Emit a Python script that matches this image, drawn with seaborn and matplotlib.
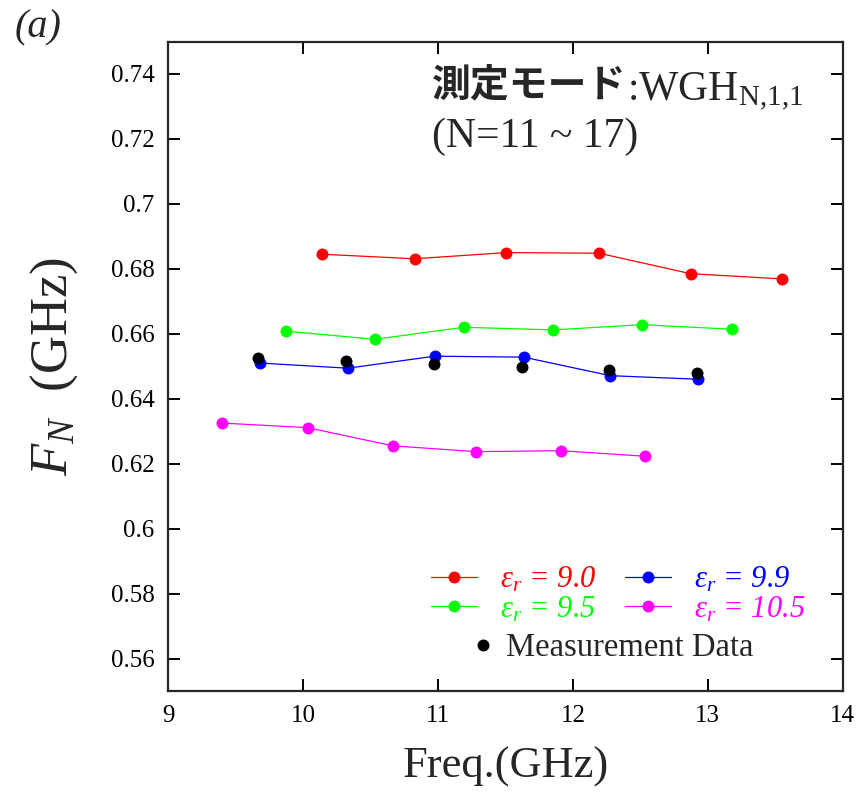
import matplotlib
matplotlib.use("Agg")
import matplotlib.pyplot as plt
from matplotlib.lines import Line2D
import numpy as np
import pandas as pd
import seaborn as sns

# ---- data -------------------------------------------------------------
freq_90 = [10.139, 10.826, 11.507, 12.195, 12.872, 13.551]
fn_90 = [0.6845, 0.6831, 0.6850, 0.6848, 0.6785, 0.6769]

freq_95 = [9.873, 10.532, 11.190, 11.854, 12.511, 13.181]
fn_95 = [0.6608, 0.6583, 0.6620, 0.6612, 0.6628, 0.6614]

freq_99 = [9.678, 10.330, 10.975, 11.635, 12.277, 12.927]
fn_99 = [0.6510, 0.6494, 0.6531, 0.6528, 0.6471, 0.6460]

freq_105 = [9.400, 10.033, 10.663, 11.283, 11.909, 12.532]
fn_105 = [0.6325, 0.6311, 0.6255, 0.6237, 0.6240, 0.6223]

freq_meas = [9.663, 10.320, 10.967, 11.620, 12.267, 12.917]
fn_meas = [0.6526, 0.6517, 0.6506, 0.6497, 0.6488, 0.6478]

eps_labels = ["9.0", "9.5", "9.9", "10.5"]
eps_colors = ["#ff0000", "#00ff00", "#0000ff", "#ff00ff"]

x_ticks = [9, 10, 11, 12, 13, 14]
y_ticks = [0.56, 0.58, 0.60, 0.62, 0.64, 0.66, 0.68, 0.70, 0.72, 0.74]
y_tick_labels = ["0.56", "0.58", "0.6", "0.62", "0.64", "0.66", "0.68", "0.7", "0.72", "0.74"]

# ---- styling ----------------------------------------------------------
sns.set_theme(style="ticks")
plt.rcParams["font.family"] = ["Liberation Serif", "DejaVu Serif"]
plt.rcParams["mathtext.fontset"] = "custom"
plt.rcParams["mathtext.rm"] = "Liberation Serif"
plt.rcParams["mathtext.it"] = "Liberation Serif:italic"
plt.rcParams["mathtext.bf"] = "Liberation Serif:bold"

W, H = 861, 792
fig = plt.figure(figsize=(W / 100, H / 100), dpi=100)
ax = fig.add_axes([168.3 / W, 1 - 691 / H, (842.7 - 168.3) / W, (691 - 41.5) / H])

series = [(freq_90, fn_90), (freq_95, fn_95), (freq_99, fn_99), (freq_105, fn_105)]
frames = []
for (fx, fy), lab in zip(series, eps_labels):
    frames.append(pd.DataFrame({"freq": fx, "fn": fy, "eps": lab}))
df = pd.concat(frames, ignore_index=True)

MS = 8.6
sns.lineplot(data=df, x="freq", y="fn", hue="eps", hue_order=eps_labels,
             palette=eps_colors, marker="o", markersize=MS, markeredgewidth=0,
             linewidth=0.9, legend=False, ax=ax, zorder=2)

meas = pd.DataFrame({"freq": freq_meas, "fn": fn_meas})
sns.scatterplot(data=meas, x="freq", y="fn", color="black", s=MS ** 2,
                linewidth=0, legend=False, ax=ax, zorder=3)

ax.set_xlim(9, 14)
ax.set_ylim(0.55, 0.75)
ax.set_xticks(x_ticks)
ax.set_yticks(y_ticks)
ax.set_yticklabels(y_tick_labels)
for s in ax.spines.values():
    s.set_linewidth(1.6)
ax.tick_params(axis="both", direction="in", length=8.5, width=1.4,
               labelsize=18, top=True, right=True, pad=10, colors="black")

ax.set_xlabel("Freq.(GHz)", fontsize=32, labelpad=14)
ax.set_ylabel(r"$F_N$  (GHz)", fontsize=38, labelpad=22)

# ---- legends ----------------------------------------------------------
handles = [Line2D([], [], color=c, marker="o", markersize=MS, markeredgewidth=0,
                  linewidth=0.9) for c in eps_colors]
labels = [r"$\varepsilon_r$ = " + v for v in eps_labels]
leg1 = ax.legend(handles, labels,
                 ncol=2, frameon=False, fontsize=22, handlelength=1.5,
                 handletextpad=0.75, columnspacing=0.95, labelspacing=0.0,
                 borderpad=0, borderaxespad=0, loc="upper left",
                 bbox_to_anchor=(431 / W, 1 - 565 / H),
                 bbox_transform=fig.transFigure)
for txt, c in zip(leg1.get_texts(), eps_colors):
    txt.set_color(c)
    txt.set_fontstyle("italic")
ax.add_artist(leg1)

mh = Line2D([], [], color="black", marker="o", markersize=MS,
            markeredgewidth=0, linestyle="none")
leg2 = ax.legend([mh], ["Measurement Data"], frameon=False, fontsize=23.5,
                 handlelength=0.8, handletextpad=0.3, borderpad=0,
                 borderaxespad=0, loc="upper left",
                 bbox_to_anchor=(470 / W, 1 - 633 / H),
                 bbox_transform=fig.transFigure)

# ---- annotation -------------------------------------------------------
fig.text(15 / W, 1 - 28 / H, "(a)", fontsize=29, fontstyle="italic",
         va="center", ha="left")

t1 = fig.text(432 / W, 1 - 86 / H, "測定モード", fontsize=28,
              family=["Noto Sans CJK JP", "DejaVu Sans"], fontweight="bold",
              va="center", ha="left")
fig.canvas.draw()
bb = t1.get_window_extent()
fig.text((bb.x1 + 1) / W, 1 - 86 / H, r":$\mathrm{WGH}_{\mathrm{N{,}1{,}1}}$",
         fontsize=30, va="center_baseline", ha="left")
fig.text(432 / W, 1 - 137 / H, "(N=11 ~ 17)", fontsize=30,
         va="center", ha="left")

fig.savefig("out.png", dpi=100)
